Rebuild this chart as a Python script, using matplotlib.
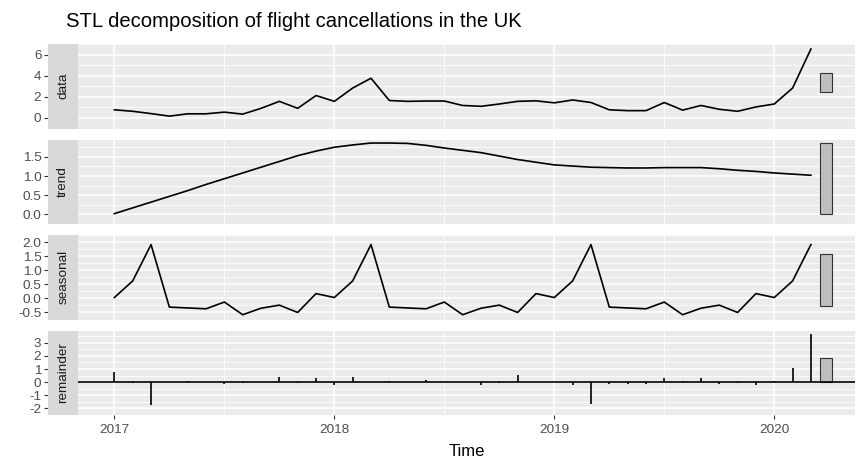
import matplotlib
matplotlib.use("Agg")
import matplotlib.pyplot as plt
from matplotlib.patches import Rectangle
import numpy as np

plt.rcParams['font.family'] = ['Liberation Sans', 'DejaVu Sans']

# monthly series, Jan 2017 .. Mar 2020
start_year = 2017
n_months = 39

data = [0.77, 0.63, 0.41, 0.17, 0.39, 0.39, 0.55, 0.36, 0.91, 1.57,
        0.91, 2.12, 1.57, 2.83, 3.76, 1.65, 1.57, 1.60, 1.60, 1.18,
        1.10, 1.32, 1.57, 1.62, 1.43, 1.70, 1.46, 0.77, 0.69, 0.69,
        1.46, 0.74, 1.18, 0.82, 0.63, 1.04, 1.32, 2.83, 6.53]
trend = [0.02, 0.17, 0.32, 0.47, 0.62, 0.78, 0.93, 1.08, 1.23, 1.38,
         1.53, 1.65, 1.75, 1.81, 1.86, 1.86, 1.85, 1.80, 1.73, 1.67,
         1.61, 1.52, 1.43, 1.36, 1.29, 1.26, 1.23, 1.22, 1.21, 1.21,
         1.22, 1.22, 1.22, 1.19, 1.15, 1.12, 1.08, 1.05, 1.02]
seasonal = [0.03, 0.62, 1.91, -0.31, -0.34, -0.37, -0.13, -0.58, -0.35, -0.24, -0.50, 0.17,
            0.03, 0.62, 1.91, -0.31, -0.34, -0.37, -0.13, -0.58, -0.35, -0.24, -0.50, 0.17,
            0.03, 0.62, 1.91, -0.31, -0.34, -0.37, -0.13, -0.58, -0.35, -0.24, -0.50, 0.17,
            0.03, 0.62, 1.91]
remainder = [0.75, -0.10, -1.75, 0.00, 0.10, 0.00, -0.15, -0.07, 0.00, 0.40,
             -0.08, 0.30, -0.20, 0.40, 0.00, 0.07, 0.03, 0.15, 0.00, 0.03,
             -0.22, -0.03, 0.58, 0.00, 0.00, -0.22, -1.65, -0.15, -0.15, -0.15,
             0.35, 0.10, 0.30, -0.15, -0.03, -0.20, 0.10, 1.05, 3.66]

panel_names = ['data', 'trend', 'seasonal', 'remainder']
y_major = [[0, 2, 4, 6],
           [0.0, 0.5, 1.0, 1.5],
           [-0.5, 0.0, 0.5, 1.0, 1.5, 2.0],
           [-2, -1, 0, 1, 2, 3]]
y_labels = [['0', '2', '4', '6'],
            ['0.0', '0.5', '1.0', '1.5'],
            ['-0.5', '0.0', '0.5', '1.0', '1.5', '2.0'],
            ['-2', '-1', '0', '1', '2', '3']]
x_major = [2017, 2018, 2019, 2020]
x_labels = ['2017', '2018', '2019', '2020']

t = start_year + np.arange(n_months) / 12.0
series = [data, trend, seasonal, remainder]

# ------------------------------------------------------------------
W, H = 857, 459
fig = plt.figure(figsize=(W / 100, H / 100), dpi=100)

left_px, right_px = 78.3, 855
strip_w = 30
panel_h = 84.5
tops = [44, 139.5, 235, 330.5]

# range bars: same height (smallest range) centred in each panel
ranges = [max(s) - min(s) for s in series]
bar_h = min(ranges)
bar_x0, bar_x1 = 2020.209, 2020.262

fs = 9.7
grey_txt = '#4D4D4D'
for k, (name, s) in enumerate(zip(panel_names, series)):
    y0 = 1 - (tops[k] + panel_h) / H
    ax = fig.add_axes([left_px / W, y0, (right_px - left_px) / W, panel_h / H])
    ax.set_facecolor('#EBEBEB')
    for sp in ax.spines.values():
        sp.set_visible(False)

    if name == 'remainder':
        ax.vlines(t, 0, s, color='black', lw=1.2)
        ax.axhline(0, color='black', lw=1.2)
    else:
        ax.plot(t, s, color='black', lw=1.2)

    mid = (max(s) + min(s)) / 2
    ax.add_patch(Rectangle((bar_x0, mid - bar_h / 2), bar_x1 - bar_x0, bar_h,
                           facecolor='#BEBEBE', edgecolor='#333333', lw=0.8))

    ax.margins(y=0.05)
    ax.autoscale_view(scalex=False)

    ym = y_major[k]
    step = ym[1] - ym[0]
    ax.set_yticks(ym)
    ax.set_yticklabels(y_labels[k])
    ax.set_yticks([v + step / 2 for v in [ym[0] - step] + ym], minor=True)
    ax.set_xticks(x_major)
    ax.set_xticks([2016.5, 2017.5, 2018.5, 2019.5, 2020.5], minor=True)
    ax.set_xlim(2016.836, 2020.367)
    ax.grid(which='major', color='white', lw=1.1)
    ax.grid(which='minor', color='white', lw=0.55)
    ax.set_axisbelow(True)

    # push the y axis out past the strip
    ax.spines['left'].set_position(('outward', strip_w * 0.72))
    ax.tick_params(axis='y', which='major', length=2.75, width=0.8, color='#333333',
                   labelsize=fs, labelcolor=grey_txt, pad=2.2)
    ax.tick_params(axis='both', which='minor', length=0)

    if k == 3:
        ax.set_xticklabels(x_labels)
        ax.tick_params(axis='x', which='major', length=2.75, width=0.8, color='#333333',
                       labelsize=fs, labelcolor=grey_txt, pad=3.5)
        ax.set_xlabel('Time', fontsize=12, color='black', labelpad=6)
    else:
        ax.tick_params(axis='x', which='major', length=0, labelbottom=False)

    # strip on the left
    sax = fig.add_axes([(left_px - strip_w) / W, y0, strip_w / W, panel_h / H])
    sax.set_facecolor('#D9D9D9')
    sax.set_xticks([])
    sax.set_yticks([])
    for sp in sax.spines.values():
        sp.set_visible(False)
    sax.text(0.5, 0.5, name, rotation=90, ha='center', va='center',
             fontsize=fs, color='#1A1A1A', transform=sax.transAxes)

fig.text(66 / W, 1 - 27 / H, 'STL decomposition of flight cancellations in the UK',
         fontsize=14.6, color='black', ha='left', va='baseline')

fig.savefig('out.png', dpi=100)
